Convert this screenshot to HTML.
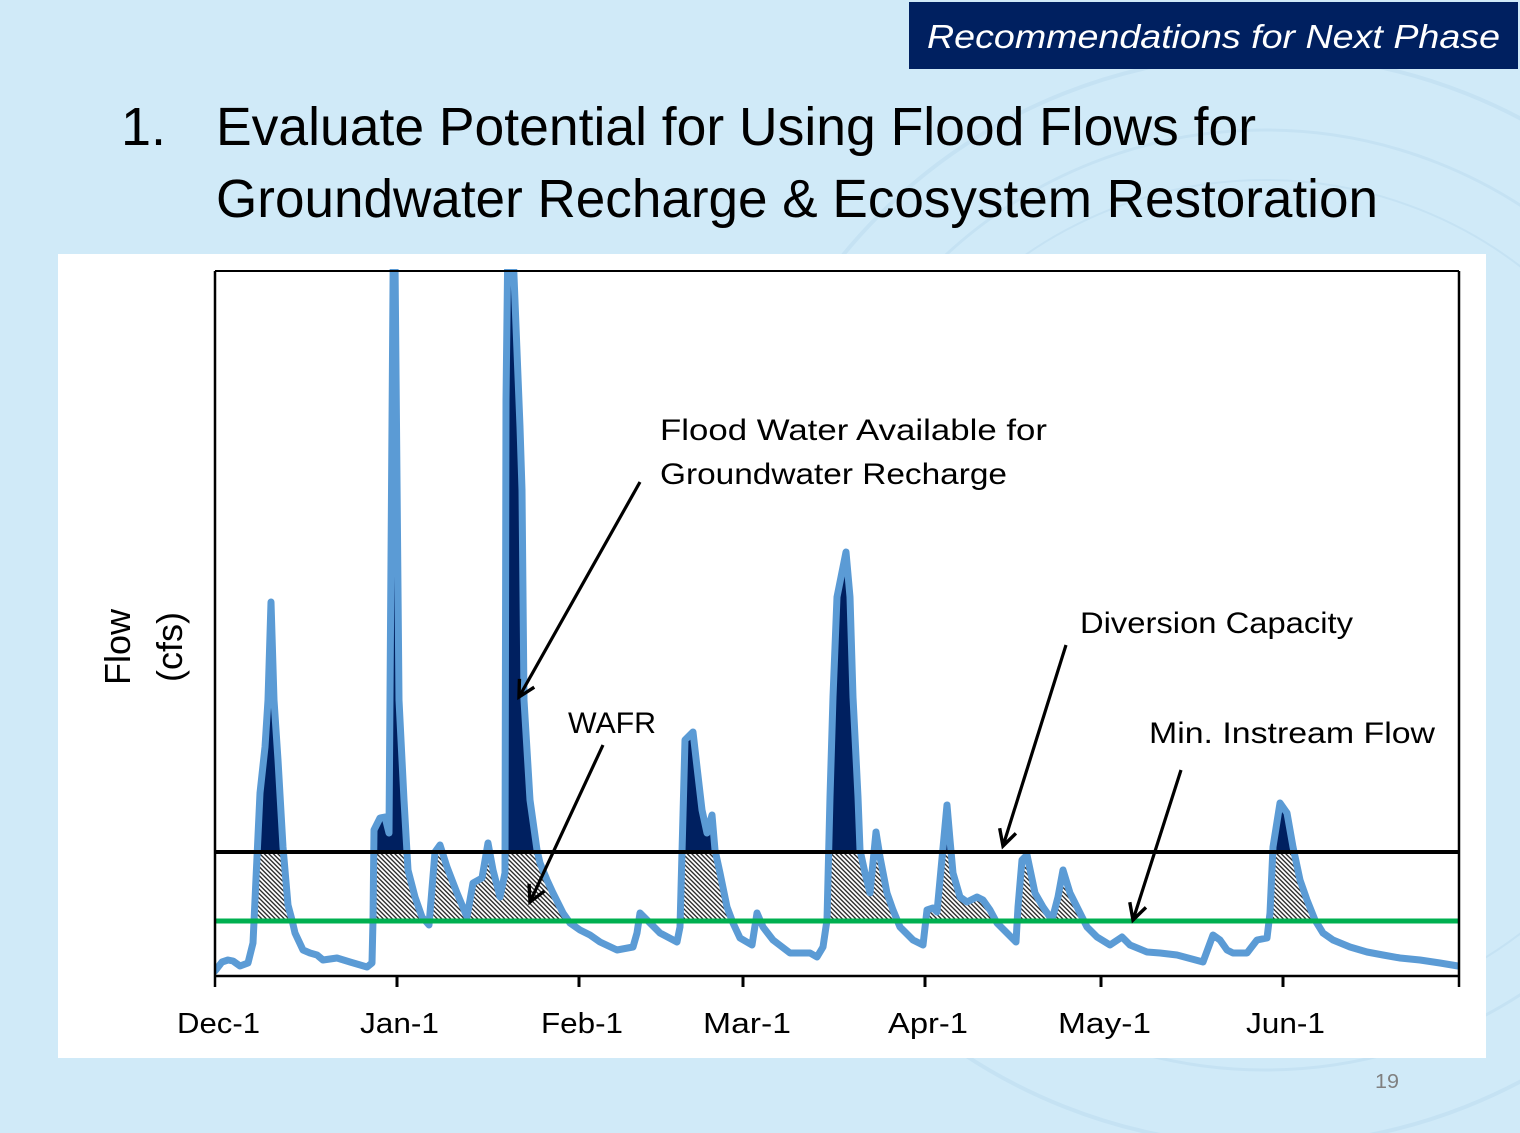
<!DOCTYPE html>
<html>
<head>
<meta charset="utf-8">
<style>
  html, body { margin: 0; padding: 0; }
  body { width: 1520px; height: 1133px; overflow: hidden; background: #d0eaf8; }
  svg { display: block; }
  text { font-family: "Liberation Sans", sans-serif; }
</style>
</head>
<body>
<svg width="1520" height="1133" viewBox="0 0 1520 1133" xmlns="http://www.w3.org/2000/svg">
  <defs>
    <pattern id="hatch" patternUnits="userSpaceOnUse" width="4.5" height="4.5">
      <rect width="4.5" height="4.5" fill="#ffffff"/>
      <path d="M-1,-1 L5.5,5.5 M-1,3.5 L1,5.5 M3.5,-1 L5.5,1" stroke="#2e2e2e" stroke-width="1.4"/>
    </pattern>
    <clipPath id="clipDark"><rect x="215" y="269" width="1244" height="583"/></clipPath>
    <clipPath id="clipHatch"><rect x="215" y="852" width="1244" height="69"/></clipPath>
    <clipPath id="clipPlot"><rect x="215" y="269" width="1244" height="710"/></clipPath>
    <marker id="arr" markerUnits="userSpaceOnUse" viewBox="-20 -12 24 24" refX="0" refY="0" markerWidth="24" markerHeight="24" orient="auto" overflow="visible">
      <path d="M-16,-8.5 L0,0 L-16,8.5" fill="none" stroke="#000" stroke-width="3.4" stroke-linejoin="miter"/>
    </marker>
  </defs>

  <!-- background watermark rings -->
  <g fill="none" stroke="#c3e1f3" opacity="0.8">
    <circle cx="1265" cy="600" r="545" stroke-width="4"/>
    <circle cx="1265" cy="600" r="470" stroke-width="3"/>
    <circle cx="1265" cy="600" r="420" stroke-width="2"/>
  </g>

  <!-- header box -->
  <rect x="909" y="2" width="609" height="67" fill="#002060"/>
  <text x="927" y="48" font-size="33" font-style="italic" fill="#ffffff" textLength="573" lengthAdjust="spacingAndGlyphs">Recommendations for Next Phase</text>

  <!-- title -->
  <text x="121" y="145" font-size="54" fill="#000">1.</text>
  <text x="216" y="145" font-size="54" fill="#000" textLength="1040" lengthAdjust="spacingAndGlyphs">Evaluate Potential for Using Flood Flows for</text>
  <text x="216" y="217" font-size="54" fill="#000" textLength="1162" lengthAdjust="spacingAndGlyphs">Groundwater Recharge &amp; Ecosystem Restoration</text>

  <!-- white chart panel -->
  <rect x="58" y="254" width="1428" height="804" fill="#ffffff"/>

  <!-- fills -->
  <path id="area" d="M215,976 L215,971 222,962 228,960 233,961 240,966 248,963 253,943 255,900 260,793 265,747 268,700 271,602 274,700 278,760 283,847 288,905 292,920 295,933 303,950 310,953 317,955 323,960 337,958 350,962 367,967 372,963 373,920 374,830 380,818 385,817 389,833 394,150 399,700 404,800 408,870 415,897 422,917 429,925 435,852 440,845 447,867 457,893 467,917 473,883 482,878 488,843 493,870 500,897 505,873 506,400 509,150 520,427 522,490 524,700 530,800 537,850 540,863 547,880 553,893 563,913 570,923 580,930 590,935 600,942 617,950 633,947 637,933 640,913 650,923 660,933 677,942 680,927 685,740 693,732 697,767 702,810 707,833 712,815 715,850 720,873 727,907 733,923 740,938 752,945 757,913 763,927 773,940 790,953 810,953 817,957 823,947 827,920 830,797 833,697 837,597 846,552 850,597 853,697 858,797 860,850 865,873 870,893 876,832 880,857 887,893 893,910 900,927 913,940 923,945 927,910 933,908 937,912 947,805 950,840 953,873 960,897 967,902 977,897 983,900 990,910 997,923 1007,933 1016,942 1018,907 1022,860 1027,855 1035,893 1043,907 1052,920 1058,897 1063,870 1070,893 1080,913 1087,927 1097,937 1110,945 1122,937 1130,945 1147,952 1160,953 1177,955 1203,962 1213,935 1220,940 1227,950 1233,953 1247,953 1257,940 1267,938 1270,913 1273,847 1280,803 1287,813 1293,847 1300,880 1307,900 1315,920 1323,933 1333,940 1350,947 1367,952 1383,955 1400,958 1420,960 1440,963 1458,966 L1458,976 Z" fill="#002060" clip-path="url(#clipDark)"/>
  <g clip-path="url(#clipHatch)">
    <path d="M215,976 L215,971 222,962 228,960 233,961 240,966 248,963 253,943 255,900 260,793 265,747 268,700 271,602 274,700 278,760 283,847 288,905 292,920 295,933 303,950 310,953 317,955 323,960 337,958 350,962 367,967 372,963 373,920 374,830 380,818 385,817 389,833 394,150 399,700 404,800 408,870 415,897 422,917 429,925 435,852 440,845 447,867 457,893 467,917 473,883 482,878 488,843 493,870 500,897 505,873 506,400 509,150 520,427 522,490 524,700 530,800 537,850 540,863 547,880 553,893 563,913 570,923 580,930 590,935 600,942 617,950 633,947 637,933 640,913 650,923 660,933 677,942 680,927 685,740 693,732 697,767 702,810 707,833 712,815 715,850 720,873 727,907 733,923 740,938 752,945 757,913 763,927 773,940 790,953 810,953 817,957 823,947 827,920 830,797 833,697 837,597 846,552 850,597 853,697 858,797 860,850 865,873 870,893 876,832 880,857 887,893 893,910 900,927 913,940 923,945 927,910 933,908 937,912 947,805 950,840 953,873 960,897 967,902 977,897 983,900 990,910 997,923 1007,933 1016,942 1018,907 1022,860 1027,855 1035,893 1043,907 1052,920 1058,897 1063,870 1070,893 1080,913 1087,927 1097,937 1110,945 1122,937 1130,945 1147,952 1160,953 1177,955 1203,962 1213,935 1220,940 1227,950 1233,953 1247,953 1257,940 1267,938 1270,913 1273,847 1280,803 1287,813 1293,847 1300,880 1307,900 1315,920 1323,933 1333,940 1350,947 1367,952 1383,955 1400,958 1420,960 1440,963 1458,966 L1458,976 Z" fill="url(#hatch)"/>
  </g>

  <!-- flow series line -->
  <polyline clip-path="url(#clipPlot)" fill="none" stroke="#5b9bd5" stroke-width="7" stroke-linejoin="round" stroke-linecap="round" points="215,971 222,962 228,960 233,961 240,966 248,963 253,943 255,900 260,793 265,747 268,700 271,602 274,700 278,760 283,847 288,905 292,920 295,933 303,950 310,953 317,955 323,960 337,958 350,962 367,967 372,963 373,920 374,830 380,818 385,817 389,833 394,150 399,700 404,800 408,870 415,897 422,917 429,925 435,852 440,845 447,867 457,893 467,917 473,883 482,878 488,843 493,870 500,897 505,873 506,400 509,150 520,427 522,490 524,700 530,800 537,850 540,863 547,880 553,893 563,913 570,923 580,930 590,935 600,942 617,950 633,947 637,933 640,913 650,923 660,933 677,942 680,927 685,740 693,732 697,767 702,810 707,833 712,815 715,850 720,873 727,907 733,923 740,938 752,945 757,913 763,927 773,940 790,953 810,953 817,957 823,947 827,920 830,797 833,697 837,597 846,552 850,597 853,697 858,797 860,850 865,873 870,893 876,832 880,857 887,893 893,910 900,927 913,940 923,945 927,910 933,908 937,912 947,805 950,840 953,873 960,897 967,902 977,897 983,900 990,910 997,923 1007,933 1016,942 1018,907 1022,860 1027,855 1035,893 1043,907 1052,920 1058,897 1063,870 1070,893 1080,913 1087,927 1097,937 1110,945 1122,937 1130,945 1147,952 1160,953 1177,955 1203,962 1213,935 1220,940 1227,950 1233,953 1247,953 1257,940 1267,938 1270,913 1273,847 1280,803 1287,813 1293,847 1300,880 1307,900 1315,920 1323,933 1333,940 1350,947 1367,952 1383,955 1400,958 1420,960 1440,963 1458,966"/>

  <!-- diversion capacity & min instream flow lines -->
  <line x1="215" y1="852" x2="1459" y2="852" stroke="#000" stroke-width="4"/>
  <line x1="215" y1="921" x2="1459" y2="921" stroke="#00b050" stroke-width="5"/>

  <!-- plot frame -->
  <g stroke="#000" fill="none">
    <line x1="215" y1="271" x2="1459" y2="271" stroke-width="2"/>
    <line x1="1459" y1="271" x2="1459" y2="987" stroke-width="2.5"/>
    <line x1="215" y1="271" x2="215" y2="987" stroke-width="2.5"/>
    <line x1="215" y1="976" x2="1459" y2="976" stroke-width="2.5"/>
    <line x1="397" y1="976" x2="397" y2="987" stroke-width="3"/>
    <line x1="579" y1="976" x2="579" y2="987" stroke-width="3"/>
    <line x1="743" y1="976" x2="743" y2="987" stroke-width="3"/>
    <line x1="925" y1="976" x2="925" y2="987" stroke-width="3"/>
    <line x1="1101" y1="976" x2="1101" y2="987" stroke-width="3"/>
    <line x1="1283" y1="976" x2="1283" y2="987" stroke-width="3"/>
  </g>

  <!-- x tick labels -->
  <g font-size="29" fill="#000">
    <text x="177" y="1033" textLength="83" lengthAdjust="spacingAndGlyphs">Dec-1</text>
    <text x="360" y="1033" textLength="79" lengthAdjust="spacingAndGlyphs">Jan-1</text>
    <text x="541" y="1033" textLength="82" lengthAdjust="spacingAndGlyphs">Feb-1</text>
    <text x="703" y="1033" textLength="88" lengthAdjust="spacingAndGlyphs">Mar-1</text>
    <text x="888" y="1033" textLength="80" lengthAdjust="spacingAndGlyphs">Apr-1</text>
    <text x="1058" y="1033" textLength="93" lengthAdjust="spacingAndGlyphs">May-1</text>
    <text x="1246" y="1033" textLength="79" lengthAdjust="spacingAndGlyphs">Jun-1</text>
  </g>

  <!-- y axis label -->
  <text transform="translate(130,647) rotate(-90)" text-anchor="middle" font-size="36" fill="#000">Flow</text>
  <text transform="translate(182,647) rotate(-90)" text-anchor="middle" font-size="36" fill="#000">(cfs)</text>

  <!-- annotations -->
  <g font-size="30" fill="#000">
    <text x="660" y="440" textLength="387" lengthAdjust="spacingAndGlyphs">Flood Water Available  for</text>
    <text x="660" y="484" textLength="347" lengthAdjust="spacingAndGlyphs">Groundwater Recharge</text>
    <text x="568" y="733" textLength="88" lengthAdjust="spacingAndGlyphs">WAFR</text>
    <text x="1080" y="633" textLength="273" lengthAdjust="spacingAndGlyphs">Diversion Capacity</text>
    <text x="1149" y="743" textLength="286" lengthAdjust="spacingAndGlyphs">Min. Instream Flow</text>
  </g>

  <!-- arrows -->
  <g stroke="#000" stroke-width="3.2" fill="none">
    <line x1="640" y1="482" x2="519" y2="697" marker-end="url(#arr)"/>
    <line x1="603" y1="745" x2="530" y2="902" marker-end="url(#arr)"/>
    <line x1="1066" y1="645" x2="1003" y2="846" marker-end="url(#arr)"/>
    <line x1="1181" y1="770" x2="1133" y2="920" marker-end="url(#arr)"/>
  </g>

  <!-- page number -->
  <text x="1375" y="1088" font-size="20" fill="#808080" textLength="24" lengthAdjust="spacingAndGlyphs">19</text>
</svg>
</body>
</html>
